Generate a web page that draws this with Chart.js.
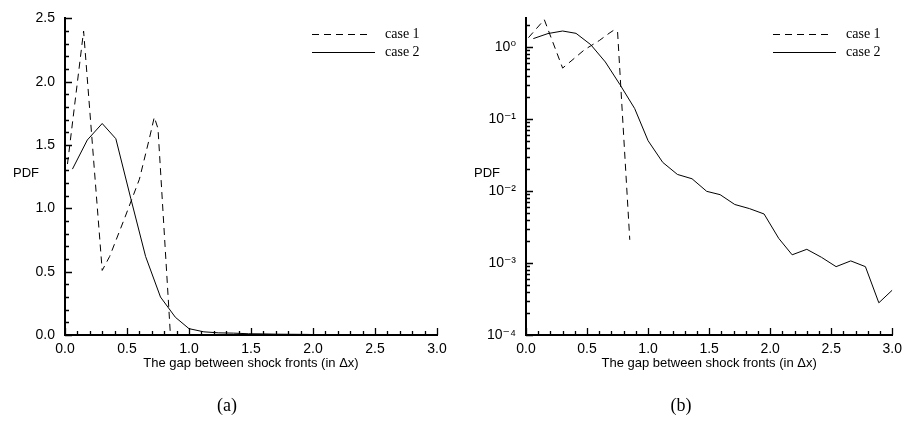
<!DOCTYPE html>
<html>
<head>
<meta charset="utf-8">
<script src="https://cdn.jsdelivr.net/npm/chart.js@4/dist/chart.umd.min.js"></script>
<style>
  html,body{margin:0;padding:0;background:#fff;}
  #wrap{position:relative;width:908px;height:427px;background:#fff;overflow:hidden;}
  .pane{position:absolute;top:0;width:454px;height:427px;}
  .cap{position:absolute;width:454px;text-align:center;font-family:"Liberation Serif","Times New Roman",serif;font-size:18px;color:#000;top:395px;}
</style>
</head>
<body>
<div id="wrap">
  <div class="pane" style="left:0"><canvas id="c1" width="454" height="427"></canvas></div>
  <div class="pane" style="left:454px"><canvas id="c2" width="454" height="427"></canvas></div>
  <div class="cap" style="left:0">(a)</div>
  <div class="cap" style="left:454px">(b)</div>
</div>
<script>
// ---- data ----
const seriesLabels = ['case 1', 'case 2'];
const case1X = [0.02, 0.15, 0.30, 0.36, 0.48, 0.60, 0.68, 0.72, 0.75, 0.85];
const case1Y = [1.35, 2.40, 0.51, 0.62, 0.92, 1.23, 1.55, 1.72, 1.63, 0.0021];
const case2X = [0.06, 0.18, 0.30, 0.41, 0.53, 0.65, 0.77, 0.89, 1.00, 1.12, 1.24, 1.36, 1.48,
                1.59, 1.71, 1.83, 1.95, 2.07, 2.18, 2.30, 2.42, 2.54, 2.66, 2.78, 2.89, 3.00];
const case2Y = [1.31, 1.54, 1.67, 1.55, 1.08, 0.62, 0.30, 0.14, 0.05, 0.025, 0.017, 0.0148, 0.0099,
                0.0089, 0.0065, 0.0057, 0.0048, 0.0022, 0.0013, 0.00155, 0.0012, 0.00089, 0.00107, 0.00089, 0.00028, 0.00042];
const xTickValues = [0, 0.5, 1.0, 1.5, 2.0, 2.5, 3.0];
const yLinTickValues = [0, 0.5, 1.0, 1.5, 2.0, 2.5];
const yLogTickValues = [1e-4, 1e-3, 1e-2, 1e-1, 1e0];
const xTitle = 'The gap between shock fronts (in \u0394x)';
const yTitle = 'PDF';

const SANS = '"Liberation Sans", Arial, "DejaVu Sans", sans-serif';
const SERIF = '"Liberation Serif", "Times New Roman", serif';

function pts(xs, ys){ return xs.map((x,i)=>({x:x, y:ys[i]})); }
function datasets(){
  return [
    {label: seriesLabels[0], data: pts(case1X, case1Y), borderColor:'#000', borderWidth:1, borderDash:[7,5], pointRadius:0, showLine:true, fill:false, tension:0},
    {label: seriesLabels[1], data: pts(case2X, case2Y), borderColor:'#000', borderWidth:1, pointRadius:0, showLine:true, fill:false, tension:0}
  ];
}

const SUP = {'0':'\u2070','1':'\u00B9','2':'\u00B2','3':'\u00B3','4':'\u2074','-':'\u207B'};
function supStr(n){ return String(n).split('').map(c=>SUP[c]).join(''); }

const deco = {
  id:'deco',
  afterDraw(chart, args, opts){
    const ctx = chart.ctx, ca = chart.chartArea;
    const xs = chart.scales.x, ys = chart.scales.y;
    ctx.save();
    ctx.strokeStyle = '#000';
    ctx.lineWidth = 1.3;
    ctx.beginPath();
    // x ticks (inward), minor every 0.1
    for (let i = 0; i <= 30; i++){
      const px = Math.round(xs.getPixelForValue(i/10)) + 0.5;
      const len = (i % 5 === 0) ? 7 : 4;
      ctx.moveTo(px, ca.bottom); ctx.lineTo(px, ca.bottom - len);
    }
    // y ticks
    if (opts.log){
      for (let e = -4; e <= 0; e++){
        for (let m = 1; m <= 9; m++){
          const v = m * Math.pow(10, e);
          if (v > ys.max) break;
          const py = Math.round(ys.getPixelForValue(v)) + 0.5;
          const len = m === 1 ? 7 : 4;
          ctx.moveTo(ca.left, py); ctx.lineTo(ca.left + len, py);
        }
      }
    } else {
      for (let i = 0; i <= 25; i++){
        const py = Math.round(ys.getPixelForValue(i/10)) + 0.5;
        const len = (i % 5 === 0) ? 7 : 4;
        ctx.moveTo(ca.left, py); ctx.lineTo(ca.left + len, py);
      }
    }
    ctx.stroke();

    // PDF label
    ctx.fillStyle = '#000';
    ctx.font = '13px ' + SANS;
    ctx.textAlign = 'center';
    ctx.textBaseline = 'middle';
    ctx.fillText(yTitle, ca.left - 39, 173);

    // legend
    chart.data.datasets.forEach((ds, i) => {
      const y = 34 + i * 18 + 0.5;
      const x0 = ca.left + 247, x1 = ca.left + (i === 0 ? 305 : 310);
      ctx.beginPath();
      ctx.lineWidth = 1.2;
      ctx.setLineDash(ds.borderDash || []);
      ctx.moveTo(x0, y); ctx.lineTo(x1, y);
      ctx.stroke();
      ctx.setLineDash([]);
      ctx.font = '14px ' + SERIF;
      ctx.textAlign = 'left';
      ctx.textBaseline = 'middle';
      ctx.fillText(ds.label, ca.left + 320, y);
    });
    ctx.restore();
  }
};

function xScale(){
  return {
    type:'linear', min:0, max:3,
    afterBuildTicks(s){ s.ticks = xTickValues.map(v=>({value:v})); },
    afterFit(s){ s.height = 36; },
    grid:{display:false, drawTicks:false},
    border:{display:true, color:'#000', width:2},
    ticks:{color:'#000', font:{family:SANS, size:14}, padding:6, maxRotation:0, callback:(v)=>Number(v).toFixed(1)},
    title:{display:true, text:xTitle, color:'#000', font:{family:SANS, size:13}, padding:{top:0,bottom:0}}
  };
}

Chart.defaults.animation = false;

new Chart(document.getElementById('c1'), {
  type:'scatter',
  data:{datasets:datasets()},
  options:{
    responsive:false, devicePixelRatio:1, animation:false,
    layout:{padding:{left:0, top:14, right:17, bottom:56}},
    plugins:{legend:{display:false}, tooltip:{enabled:false}, deco:{log:false}},
    scales:{
      x: xScale(),
      y:{
        type:'linear', min:0, max:2.5,
        afterBuildTicks(s){ s.ticks = yLinTickValues.map(v=>({value:v})); },
        afterFit(s){ s.width = 65; },
        grid:{display:false, drawTicks:false},
        border:{display:true, color:'#000', width:2},
        ticks:{color:'#000', font:{family:SANS, size:14}, padding:10, callback:(v)=>Number(v).toFixed(1)}
      }
    }
  },
  plugins:[deco]
});

new Chart(document.getElementById('c2'), {
  type:'scatter',
  data:{datasets:datasets()},
  options:{
    responsive:false, devicePixelRatio:1, animation:false,
    layout:{padding:{left:0, top:14, right:10, bottom:56}},
    plugins:{legend:{display:false}, tooltip:{enabled:false}, deco:{log:true}},
    scales:{
      x: xScale(),
      y:{
        type:'logarithmic', min:1e-4, max:2.5,
        afterBuildTicks(s){ s.ticks = yLogTickValues.map(v=>({value:v})); },
        afterFit(s){ s.width = 72; },
        grid:{display:false, drawTicks:false},
        border:{display:true, color:'#000', width:2},
        ticks:{color:'#000', font:{family:SANS, size:14}, padding:10,
               callback:(v)=>'10' + supStr(Math.round(Math.log10(v)))}
      }
    }
  },
  plugins:[deco]
});
</script>
</body>
</html>
